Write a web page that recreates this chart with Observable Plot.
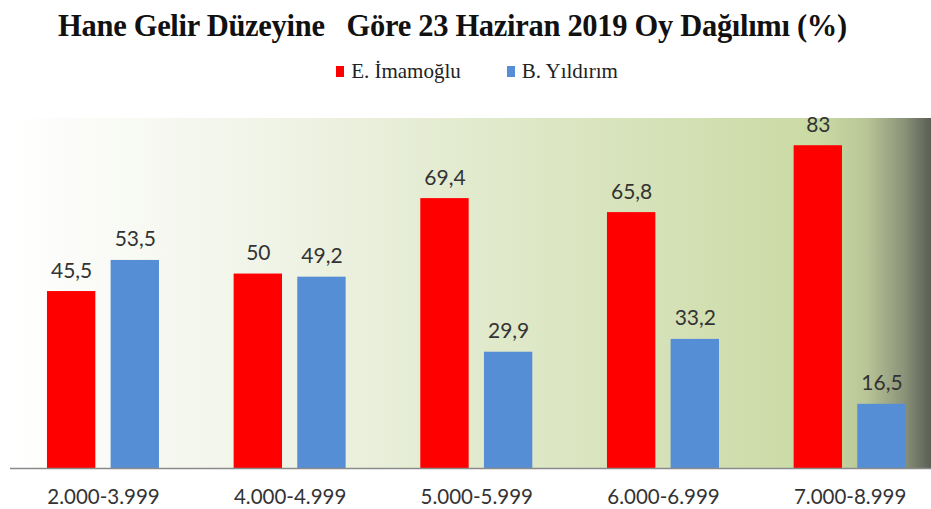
<!DOCTYPE html>
<html>
<head>
<meta charset="utf-8">
<script src="https://cdn.jsdelivr.net/npm/d3@7"></script>
<script src="https://cdn.jsdelivr.net/npm/@observablehq/plot@0.6"></script>
<style>
  html, body { margin: 0; padding: 0; background: #ffffff; width: 931px; height: 509px; overflow: hidden; }
  #title {
    height: 50px; line-height: 52px; text-align: center; white-space: pre;
    font-family: "Liberation Serif", serif; font-weight: bold; font-size: 30.5px; color: #111;
    padding-right: 26px; letter-spacing: -0.3px;
  }
  #legend {
    height: 42px; display: flex; justify-content: center; align-items: center; gap: 46px;
    font-family: "Liberation Serif", serif; font-size: 21px; color: #222; padding-left: 23px;
  }
  #legend .item { display: flex; align-items: center; gap: 7px; }
  #legend .sw { width: 8px; height: 11px; display: inline-block; }
  #chart svg { display: block; }
</style>
</head>
<body>
<div id="title">Hane Gelir Düzeyine   Göre 23 Haziran 2019 Oy Dağılımı (%)</div>
<div id="legend"></div>
<div id="chart"></div>
<script>
// Household income bands (TL) and vote share per candidate, 23 June 2019
const incomeBands = ["2.000-3.999", "4.000-4.999", "5.000-5.999", "6.000-6.999", "7.000-8.999"];
const candidates = ["E. İmamoğlu", "B. Yıldırım"];
const imamogluShare = [45.5, 50, 69.4, 65.8, 83];
const yildirimShare = [53.5, 49.2, 29.9, 33.2, 16.5];
const candidateColors = ["#ff0000", "#558ed5"];

const rows = incomeBands.flatMap((band, i) => [
  {band, candidate: candidates[0], value: imamogluShare[i]},
  {band, candidate: candidates[1], value: yildirimShare[i]}
]);

const fmt = v => String(v).replace(".", ",");

// legend
const legend = document.getElementById("legend");
candidates.forEach((c, i) => {
  const item = document.createElement("span");
  item.className = "item";
  const sw = document.createElement("span");
  sw.className = "sw";
  sw.style.background = candidateColors[i];
  const label = document.createElement("span");
  label.textContent = c;
  item.append(sw, label);
  legend.append(item);
});

const W = 931, H = 417;
const chart = Plot.plot({
  width: W,
  height: H,
  marginTop: 26,
  marginBottom: 41,
  marginLeft: 10,
  marginRight: 0,
  style: {fontFamily: "Lato, sans-serif", fontSize: "20.5px", color: "#333", background: "transparent", overflow: "visible"},
  facet: {data: rows, x: "band"},
  fx: {domain: incomeBands, range: [-27.7, 980.3], paddingInner: 0.4, paddingOuter: 0.4, round: false, axis: "bottom", tickSize: 0, tickPadding: 21, label: null},
  x: {domain: candidates, paddingInner: 0.24, paddingOuter: 0, round: false, axis: null},
  y: {domain: [0, 90], axis: null},
  color: {domain: candidates, range: candidateColors},
  marks: [
    Plot.barY(rows, {x: "candidate", y: "value", fill: "candidate"}),
    Plot.text(rows, {x: "candidate", y: "value", text: d => fmt(d.value), lineAnchor: "bottom", dy: -14, fontSize: 21, fill: "#333"})
  ]
});

// plot-area backdrop and baseline
const svg = d3.select(chart);
const y = chart.scale("y");
const defs = svg.insert("defs", ":first-child");
const grad = defs.append("linearGradient").attr("id", "panelFill").attr("x1", "0").attr("x2", "1").attr("y1", "0").attr("y2", "0");
[[0, "#ffffff"], [0.3, "#eff3e5"], [0.55, "#dfe8c8"], [0.88, "#cadaa4"], [0.93, "#b9c597"], [0.97, "#8c9479"], [1, "#5a5e55"]]
  .forEach(([o, c]) => grad.append("stop").attr("offset", o).attr("stop-color", c));
const y0 = y.apply(0), yTop = y.apply(90);
svg.insert("rect", "defs + *")
  .attr("x", 10).attr("y", yTop).attr("width", W - 10).attr("height", y0 - yTop)
  .attr("fill", "url(#panelFill)");
svg.append("line")
  .attr("x1", 10).attr("x2", W).attr("y1", y0 + 0.5).attr("y2", y0 + 0.5)
  .attr("stroke", "#8a8a8a").attr("stroke-width", 1.5);

document.getElementById("chart").append(chart);
</script>
</body>
</html>
